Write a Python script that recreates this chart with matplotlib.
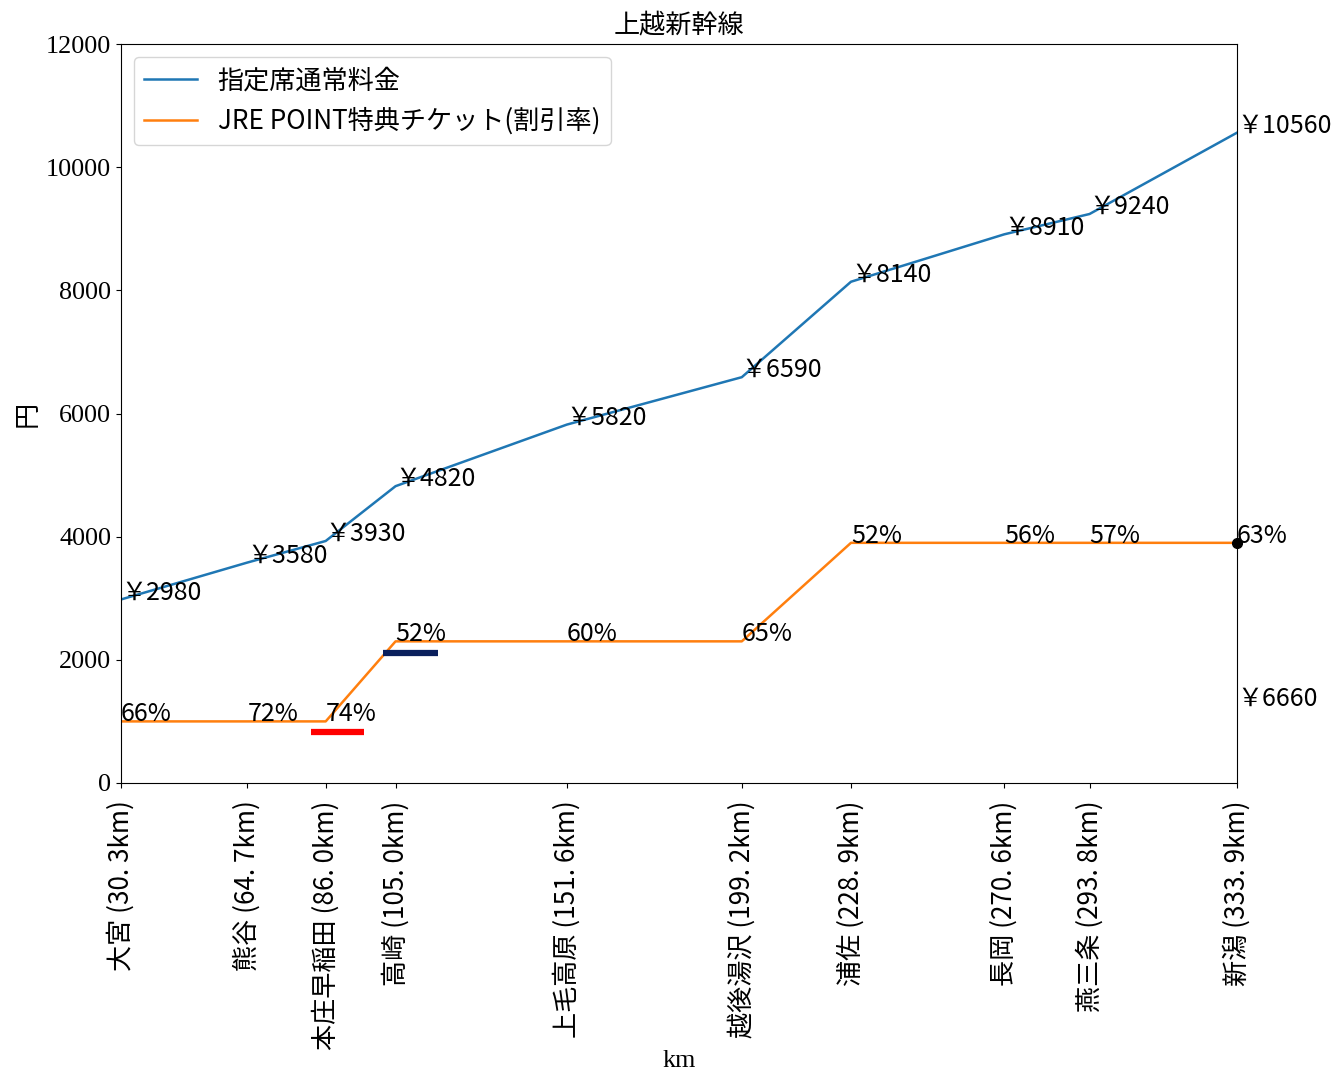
import matplotlib.pyplot as plt

plt.rcParams['font.family'] = ['Noto Sans CJK JP', 'DejaVu Sans']
FS = 18.8

stations = ["大宮", "熊谷", "本庄早稲田", "高崎", "上毛高原", "越後湯沢", "浦佐", "長岡", "燕三条", "新潟"]
km = [30.3, 64.7, 86.0, 105.0, 151.6, 199.2, 228.9, 270.6, 293.8, 333.9]
km_text = ["30. 3", "64. 7", "86. 0", "105. 0", "151. 6", "199. 2", "228. 9", "270. 6", "293. 8", "333. 9"]
fare = [2980, 3580, 3930, 4820, 5820, 6590, 8140, 8910, 9240, 10560]
points = [1000, 1000, 1000, 2300, 2300, 2300, 3900, 3900, 3900, 3900]
rate = ["66%", "72%", "74%", "52%", "60%", "65%", "52%", "56%", "57%", "63%"]

# extra marks
diff_label = "￥6660"
diff_y = 1250
red_bar = (82.0, 96.5, 830)
navy_bar = (101.5, 116.5, 2110)

fig = plt.figure(figsize=(13.41, 10.77), dpi=100)
ax = fig.add_axes([0.0902, 0.2730, 0.8322, 0.6861])

ax.plot(km, fare, color='tab:blue', linewidth=1.8, label="指定席通常料金")
ax.plot(km, points, color='tab:orange', linewidth=1.8, label="JRE POINT特典チケット(割引率)")

for x, f in zip(km, fare):
    ax.text(x, f, f"￥{f}", fontsize=18)
for x, p, r in zip(km, points, rate):
    ax.text(x, p, r, fontsize=18)

ax.plot(km[-1], points[-1], 'o', color='black', markersize=7, clip_on=False)
ax.text(km[-1], diff_y, diff_label, fontsize=18)

ax.hlines(red_bar[2], red_bar[0], red_bar[1], color='red', linewidth=4.5)
ax.hlines(navy_bar[2], navy_bar[0], navy_bar[1], color='#0a1f5c', linewidth=4.5)

ax.set_xlim(km[0], km[-1])
ax.set_ylim(0, 12000)
ax.set_xticks(km)
ax.set_xticklabels([f"{s} ({k}km)" for s, k in zip(stations, km_text)], rotation=90, fontsize=FS)
ax.tick_params(axis='x', pad=9)
ax.set_yticks(range(0, 12001, 2000))
ax.set_yticklabels([str(v) for v in range(0, 12001, 2000)], family='Liberation Serif', fontsize=FS)
ax.set_xlabel("km", family='Liberation Serif', fontsize=FS, labelpad=0)
ax.set_ylabel("円", fontsize=FS)
ax.set_title("上越新幹線", fontsize=FS, pad=8)
ax.legend(loc='upper left', fontsize=FS)

fig.savefig("out.png", dpi=100)
